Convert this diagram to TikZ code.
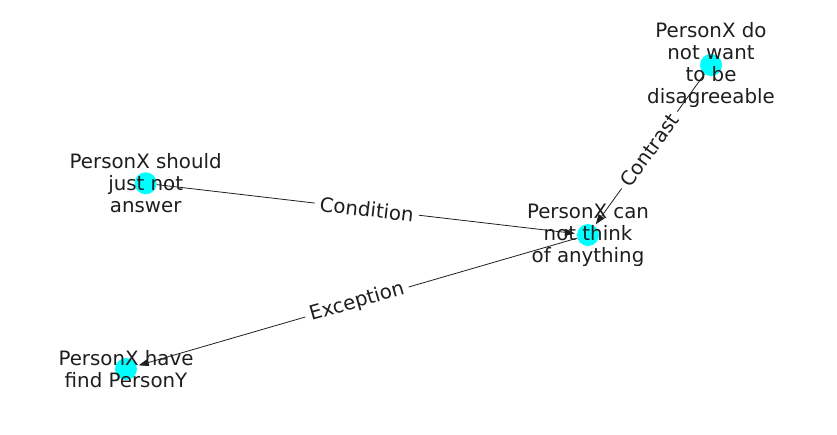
\documentclass[tikz,border=0pt]{standalone}
\usepackage{fontspec}
\setmainfont{DejaVu Sans}
\usetikzlibrary{arrows.meta}
\definecolor{nodecyan}{RGB}{0,255,255}
\definecolor{ink}{RGB}{30,30,30}
\tikzset{
  dot/.style={circle, fill=nodecyan, draw=none, minimum size=22pt, inner sep=0pt},
  nlabel/.style={align=center, text=ink, font=\fontsize{19.8}{22}\selectfont, inner sep=0pt},
  rel/.style={draw=ink, line width=0.8pt, -{Triangle[length=10pt,width=7pt]}, shorten >=2pt},
  elabel/.style={fill=white, sloped, text=ink, font=\fontsize{19.8}{22}\selectfont, inner sep=5pt}
}
\begin{document}
\begin{tikzpicture}[x=1pt, y=-1pt]
  \useasboundingbox (0,0) rectangle (837,434);
  % graph vertices
  \node[dot] (want)   at (711,65)    {};
  \node[dot] (should) at (145.7,183.3) {};
  \node[dot] (think)  at (588,235)   {};
  \node[dot] (find)   at (126,369)   {};
  % relations
  \draw[rel] (should) -- node[elabel] {Condition} (think);
  \draw[rel] (want)   -- node[elabel] {Contrast}  (think);
  \draw[rel] (think)  -- node[elabel] {Exception} (find);
  % vertex captions
  \node[nlabel] (wantT)   at (want)   {PersonX do\\not want\\to be\\disagreeable};
  \node[nlabel] (shouldT) at (should) {PersonX should\\just not\\answer};
  \node[nlabel] (thinkT)  at (think)  {PersonX can\\not think\\of anything};
  \node[nlabel] (findT)   at (find)   {PersonX have\\find PersonY};
\end{tikzpicture}
\end{document}
